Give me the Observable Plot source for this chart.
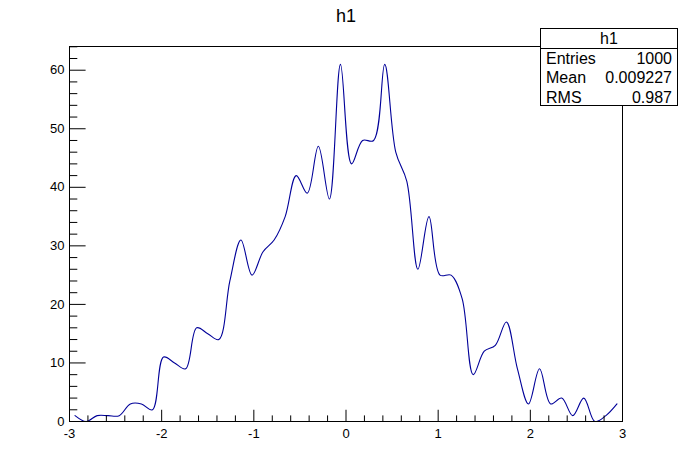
<!DOCTYPE html>
<html><head><meta charset="utf-8">
<script src="https://cdn.jsdelivr.net/npm/d3@7"></script>
<script src="https://cdn.jsdelivr.net/npm/@observablehq/plot@0.6"></script>
<style>
body{margin:0;background:#fff;font-family:"Liberation Sans",Arial,Helvetica,sans-serif;}
#wrap{position:relative;width:693px;height:469px;overflow:hidden;}
#stats{position:absolute;left:540px;top:28px;width:138px;height:78px;border:1px solid #000;background:#fff;box-sizing:border-box;font-size:16px;color:#000;}
#stats .hdr{height:19px;line-height:19px;text-align:center;border-bottom:1px solid #000;}
#stats .row{height:19.3px;line-height:19.3px;display:flex;justify-content:space-between;padding:0 5px 0 5px;}
</style>
</head><body>
<div id="wrap"></div>
<script>
const histTitle = "h1";
const xRange = [-3, 3];
const nBins = 50;
const counts = [1,0,1,1,1,3,3,2,11,10, 9,16,15,14,24,31,25,29,31,35,
                42,39,47,38,61,44,48,48,61,46, 41,26,35,25,25,21,8,12,13,17,
                9,3,9,3,4,1,4,0,1,3];
const yMajor = [0,10,20,30,40,50,60];
const yMinor = [2,4,6,8,12,14,16,18,22,24,26,28,32,34,36,38,42,44,46,48,52,54,56,58,62,64];
const xMajor = [-3,-2,-1,0,1,2,3];
const xMinor = [-2.8,-2.6,-2.4,-2.2,-1.8,-1.6,-1.4,-1.2,-0.8,-0.6,-0.4,-0.2,0.2,0.4,0.6,0.8,1.2,1.4,1.6,1.8,2.2,2.4,2.6,2.8];
const statLabels = ["Entries","Mean","RMS"];
const statValues = ["1000","0.009227","0.987"];
const yMax = 64.05;

const binW = (xRange[1]-xRange[0])/nBins;
const data = counts.map((c,i)=>({x: xRange[0] + (i+0.5)*binW, y: c}));

const W=693,H=469,mL=69,mR=71,mT=46,mB=48;
const pw = W-mL-mR, ph = H-mT-mB;
const font = '"Liberation Sans",Arial,Helvetica,sans-serif';

const chart = Plot.plot({
  width: W, height: H, marginLeft: mL, marginRight: mR, marginTop: mT, marginBottom: mB,
  x: {domain: xRange, label: null},
  y: {domain: [0, yMax], label: null},
  style: {fontFamily: font, fontSize: "13px", color: "#000", background: "#fff", overflow: "visible"},
  marks: [
    Plot.line(data, {x: "x", y: "y", curve: "catmull-rom", stroke: "#000099", strokeWidth: 1.1, clip: true}),
    Plot.tickY(yMajor, {y: d=>d, insetRight: pw - 16.6, stroke: "#000"}),
    Plot.tickY(yMinor, {y: d=>d, insetRight: pw - 8.3, stroke: "#000"}),
    Plot.tickX(xMajor, {x: d=>d, insetTop: ph - 11.25, stroke: "#000"}),
    Plot.tickX(xMinor, {x: d=>d, insetTop: ph - 5.6, stroke: "#000"}),
    Plot.axisY(yMajor, {tickSize: 0, tickPadding: 5, fontSize: 13, tickFormat: d=>String(d)}),
    Plot.axisX(xMajor, {tickSize: 0, tickPadding: 7, fontSize: 13, tickFormat: d=>String(d)}),
    Plot.frame({stroke: "#000", strokeWidth: 1}),
    Plot.text([histTitle], {text: d=>d, frameAnchor: "top", dy: -30, fontSize: 18, lineAnchor: "middle"})
  ]
});
const wrap = document.getElementById("wrap");
wrap.appendChild(chart);

const box = document.createElement("div");
box.id = "stats";
const hdr = document.createElement("div");
hdr.className = "hdr"; hdr.textContent = histTitle;
box.appendChild(hdr);
statLabels.forEach((l,i)=>{
  const r = document.createElement("div"); r.className = "row";
  const a = document.createElement("span"); a.textContent = l;
  const b = document.createElement("span"); b.textContent = statValues[i];
  r.appendChild(a); r.appendChild(b); box.appendChild(r);
});
wrap.appendChild(box);
</script>
</body></html>
